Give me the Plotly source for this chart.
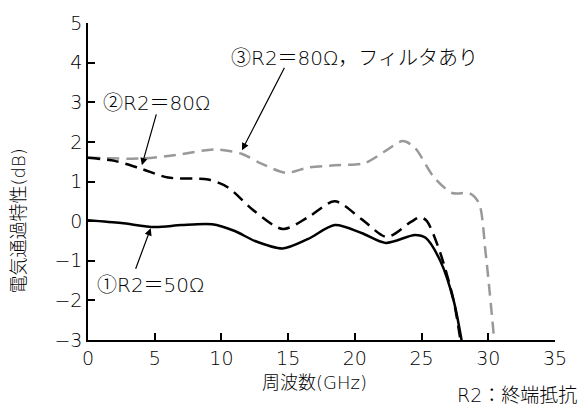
import plotly.graph_objects as go

# Series 1: R2=50Ω (solid black)
s1_x = [0, 2.5, 5, 7, 9.3, 11, 12.5, 14.6, 16.5, 18.5, 20.5, 22.3, 24.5, 25.3, 26.4, 27.4, 28.1]
s1_y = [0.02, -0.05, -0.15, -0.1, -0.08, -0.25, -0.5, -0.69, -0.45, -0.1, -0.3, -0.55, -0.35, -0.42, -1.0, -2.0, -3.2]

# Series 2: R2=80Ω (black dashed)
s2_x = [0, 2, 4, 6, 9, 10.5, 12.3, 14.6, 16.5, 18.5, 20.5, 22.4, 24.2, 24.9, 25.4, 26.4, 27.4, 28.0]
s2_y = [1.6, 1.52, 1.32, 1.1, 1.05, 0.85, 0.3, -0.2, 0.1, 0.5, 0.05, -0.4, -0.02, 0.1, 0.0, -0.8, -2.0, -3.2]

# Series 3: R2=80Ω, filter (gray dashed)
s3_x = [0, 4, 6.6, 9.6, 11.5, 13, 14.85, 16.5, 18.5, 20.7, 22.2, 23.6, 24.5, 25.9, 27.3, 28.6, 29.3, 29.8, 30.5]
s3_y = [1.6, 1.58, 1.67, 1.81, 1.7, 1.45, 1.22, 1.35, 1.41, 1.46, 1.75, 2.02, 1.85, 1.12, 0.71, 0.7, 0.45, -0.8, -3.2]

x_ticks = [0, 5, 10, 15, 20, 25, 30, 35]
y_ticks = [-3, -2, -1, 0, 1, 2, 3, 4, 5]

FONT = "DejaVu Sans, Noto Sans CJK JP"
TXT = "#000000"
W = 300

def f(size):
    return dict(size=size, family=FONT, color=TXT, weight=W)

fig = go.Figure()
fig.add_trace(go.Scatter(x=s3_x, y=s3_y, mode="lines",
                         line=dict(color="#999999", width=2.5, dash="12px,7px", shape="spline", smoothing=0.8)))
fig.add_trace(go.Scatter(x=s2_x, y=s2_y, mode="lines",
                         line=dict(color="#000000", width=2.5, dash="12px,7px", shape="spline", smoothing=0.8)))
fig.add_trace(go.Scatter(x=s1_x, y=s1_y, mode="lines",
                         line=dict(color="#000000", width=2.5, shape="spline", smoothing=0.8)))

ann = []
def arrow(hx, hy, tx, ty):
    return dict(x=hx, y=hy, ax=tx, ay=ty, xref="x", yref="y", axref="x", ayref="y",
                text="", showarrow=True, arrowhead=2, arrowsize=1.2, arrowwidth=1.2, arrowcolor="#000000")

ann.append(arrow(11.54, 1.79, 14.78, 3.91))
ann.append(arrow(4.04, 1.41, 5.15, 2.73))
ann.append(arrow(4.7, -0.18, 3.53, -1.24))

ann.append(dict(x=10.55, y=4.12, xref="x", yref="y", xanchor="left", yanchor="middle",
                text="③R2＝80Ω，フィルタあり", showarrow=False, font=f(20)))
ann.append(dict(x=1.0, y=2.98, xref="x", yref="y", xanchor="left", yanchor="middle",
                text="②R2＝80Ω", showarrow=False, font=f(20)))
ann.append(dict(x=0.55, y=-1.62, xref="x", yref="y", xanchor="left", yanchor="middle",
                text="①R2＝50Ω", showarrow=False, font=f(20)))

ann.append(dict(x=-0.149, y=0, xref="paper", yref="y", xanchor="center", yanchor="middle",
                text="電気通過特性(dB)", textangle=-90, showarrow=False, font=f(18)))
ann.append(dict(x=17, y=-0.1356, xref="x", yref="paper", xanchor="center", yanchor="middle",
                text="周波数(GHz)", showarrow=False, font=f(18)))
ann.append(dict(x=1.052, y=-0.174, xref="paper", yref="paper", xanchor="right", yanchor="middle",
                text="R2：終端抵抗", showarrow=False, font=f(19)))

fig.update_layout(
    width=579, height=405,
    margin=dict(l=88, r=15, t=23, b=65),
    paper_bgcolor="white", plot_bgcolor="white",
    showlegend=False,
    annotations=ann,
    font=dict(family=FONT, color=TXT),
)
fig.update_xaxes(range=[0, 35], tickvals=x_ticks, ticks="inside", ticklen=7, tickwidth=1.5,
                 tickcolor="#000000", showline=True, linecolor="#000000", linewidth=1.5,
                 showgrid=False, zeroline=False, tickfont=f(19))
fig.update_yaxes(range=[-3, 5], tickvals=y_ticks, ticks="inside", ticklen=7, tickwidth=1.5,
                 tickcolor="#000000", showline=True, linecolor="#000000", linewidth=1.5,
                 showgrid=False, zeroline=False, tickfont=f(19))

fig.write_html("out.html", config={"displayModeBar": False},
               post_script="document.body.style.margin='0px';document.body.style.overflow='hidden';")
